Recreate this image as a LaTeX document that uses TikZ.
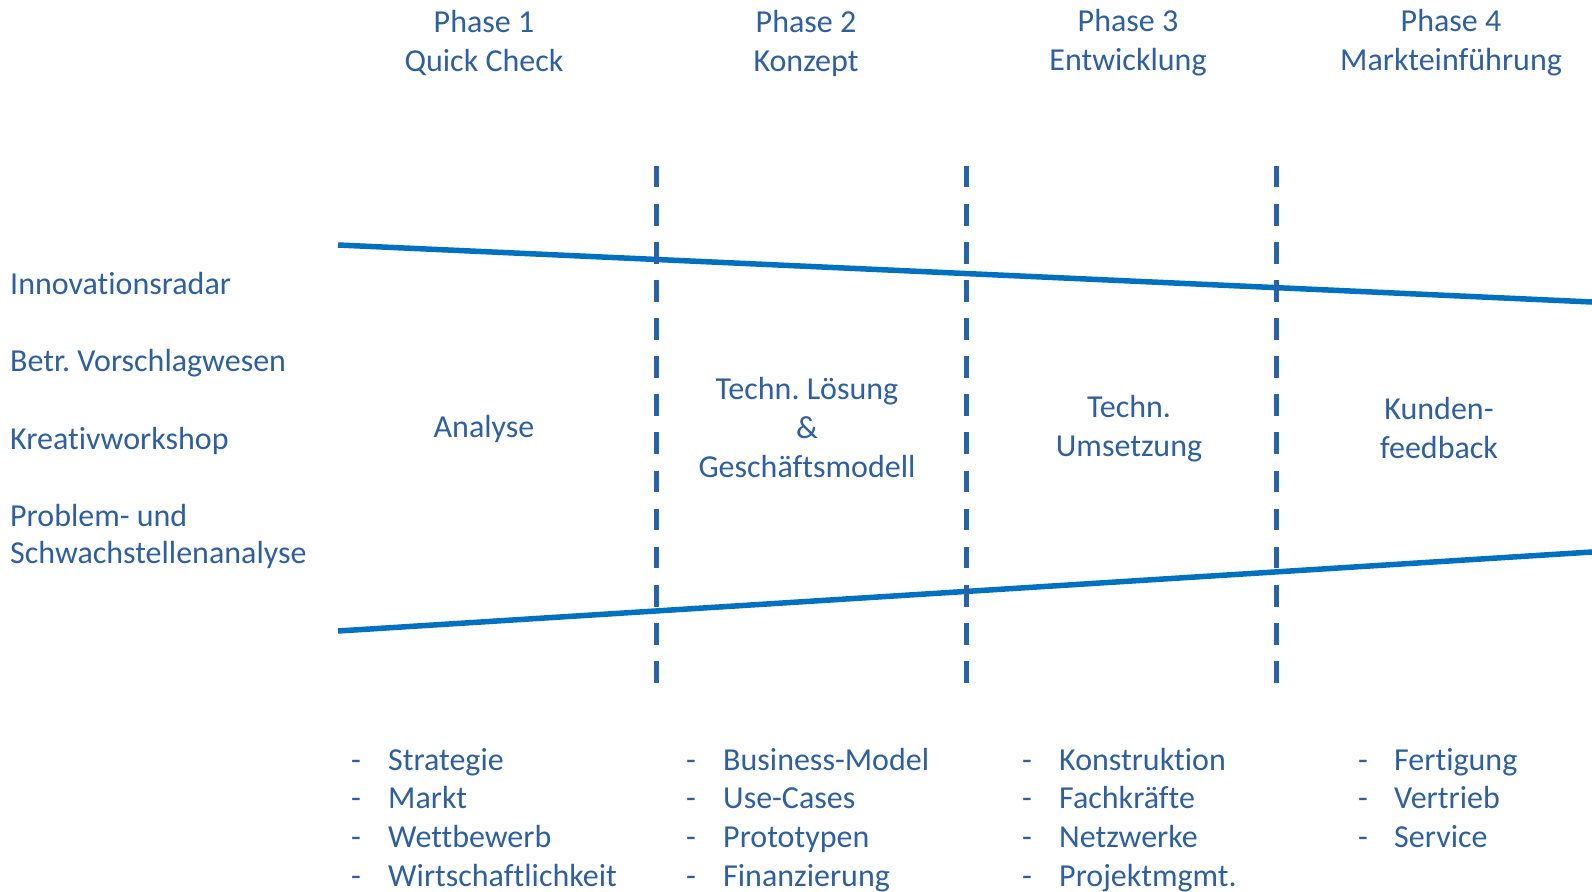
\documentclass[tikz,border=0pt]{standalone}
\usepackage{fontspec}
\setmainfont{Carlito}[Ligatures=NoCommon]
\frenchspacing
\definecolor{txtblue}{HTML}{2F5F9F}
\definecolor{lineblue}{HTML}{0070C0}
\definecolor{dashblue}{HTML}{2A62A8}
\begin{document}
\begin{tikzpicture}[x=1pt,y=-1pt,
  txt/.style={text=txtblue,font=\fontsize{32}{39}\selectfont,inner sep=0pt},
  head/.style={txt,align=center,anchor=center},
  lab/.style={txt,anchor=mid west},
  item/.style={txt,anchor=mid west},
  mainline/.style={draw=lineblue,line width=5.5pt},
  divider/.style={draw=dashblue,line width=5pt,dash pattern=on 21.7pt off 16.4pt}
]
\useasboundingbox[fill=white] (0,0) rectangle (1592,891);
% phase headers
\node[head] (h1) at (484,43) {Phase 1\\Quick Check};
\node[head] (h2) at (806,43) {Phase 2\\Konzept};
\node[head] (h3) at (1128,43) {Phase 3\\Entwicklung};
\node[head] (h4) at (1451,43) {Phase 4\\Markteinführung};
% funnel lines
\coordinate (t0) at (338,245);
\coordinate (t1) at (1592,302);
\coordinate (b0) at (338,631);
\coordinate (b1) at (1592,552);
\draw[mainline] (t0) -- (t1);
\draw[mainline] (b0) -- (b1);
% dividers
\coordinate (d1a) at (656,165.7); \coordinate (d1b) at (656,683);
\coordinate (d2a) at (966,165.7); \coordinate (d2b) at (966,683);
\coordinate (d3a) at (1276,165.7); \coordinate (d3b) at (1276,683);
\draw[divider] (d1a) -- (d1b);
\draw[divider] (d2a) -- (d2b);
\draw[divider] (d3a) -- (d3b);
% left labels
\node[lab] (l1) at (10,292) {Innovationsradar};
\node[lab] (l2) at (10,369) {Betr. Vorschlagwesen};
\node[lab] (l3) at (10,447) {Kreativworkshop};
\node[lab] (l4) at (10,524) {Problem- und};
\node[lab] (l5) at (10,561) {Schwachstellenanalyse};
% middle texts
\node[head] (m1) at (484,429) {Analyse};
\node[head] (m2) at (807,428) {Techn. Lösung\\\&\\Geschäftsmodell};
\node[head] (m3) at (1129,429) {Techn.\\Umsetzung};
\node[head] (m4) at (1439,428) {Kunden-\\feedback};
% lists
\foreach \dx/\tx/\items/\nm in {351/388/{Strategie,Markt,Wettbewerb,Wirtschaftlichkeit}/a,
  686/723/{Business-Model,Use-Cases,Prototypen,Finanzierung}/b,
  1022/1059/{Konstruktion,Fachkräfte,Netzwerke,Projektmgmt.}/c,
  1358/1394/{Fertigung,Vertrieb,Service}/d}{
  \foreach \it [count=\i] in \items {
    \pgfmathsetmacro{\yy}{768+(\i-1)*38.6}
    \node[item] (\nm dash\i) at (\dx,\yy) {-};
    \node[item] (\nm item\i) at (\tx,\yy) {\it};
  }
}
\end{tikzpicture}
\end{document}
